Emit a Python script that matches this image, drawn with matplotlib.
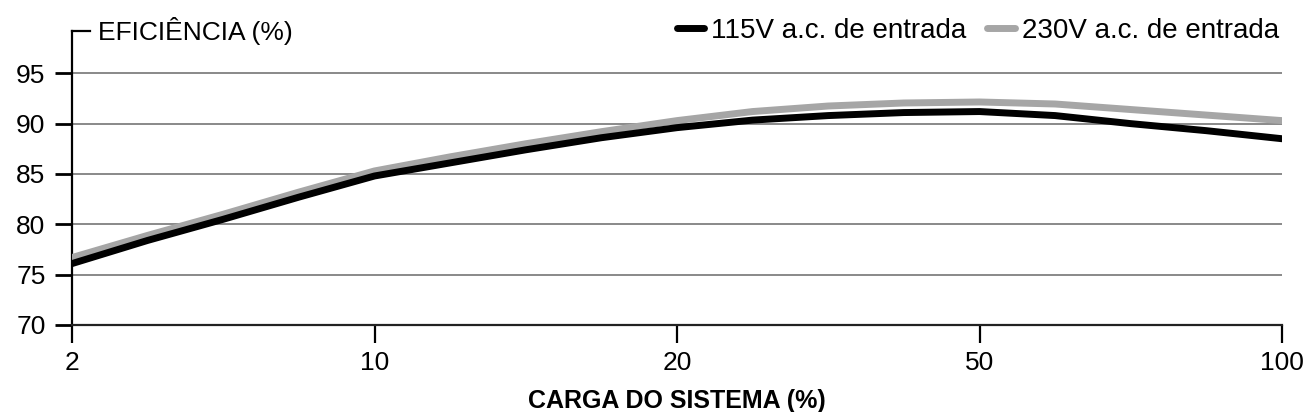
import matplotlib
matplotlib.use('Agg')
import matplotlib.pyplot as plt

# carga do sistema: posicoes igualmente espacadas 2, 10, 20, 50, 100
x_labels = ['2', '10', '20', '50', '100']
x_ticks = [0, 1, 2, 3, 4]

# pontos (em quartos de intervalo)
pos = [0, 0.25, 0.5, 0.75, 1, 1.25, 1.5, 1.75, 2,
       2.25, 2.5, 2.75, 3, 3.25, 3.5, 3.75, 4]
ef_115 = [76.1, 78.4, 80.5, 82.7, 84.8, 86.1, 87.4, 88.6, 89.6,
          90.35, 90.8, 91.1, 91.2, 90.8, 90.0, 89.3, 88.5]
ef_230 = [76.7, 78.9, 81.0, 83.2, 85.3, 86.7, 88.0, 89.2, 90.3,
          91.2, 91.75, 92.05, 92.15, 91.95, 91.4, 90.85, 90.3]

y_ticks = [70, 75, 80, 85, 90, 95]

plt.rcParams['font.family'] = ['Liberation Sans', 'DejaVu Sans']

fig = plt.figure(figsize=(13.04, 4.12), dpi=100)
ax = fig.add_axes([72 / 1304, 1 - 325 / 412, 1210 / 1304, 294 / 412])

ax.plot(pos, ef_230, color='#a6a6a6', lw=5, solid_capstyle='round',
        solid_joinstyle='round', label='230V a.c. de entrada', zorder=3)
ax.plot(pos, ef_115, color='black', lw=5, solid_capstyle='round',
        solid_joinstyle='round', label='115V a.c. de entrada', zorder=4)

ax.set_xlim(0, 4)
ax.set_ylim(70, 99.2)
ax.set_xticks(x_ticks)
ax.set_xticklabels(x_labels)
ax.set_yticks(y_ticks)

for v in y_ticks[1:]:
    ax.axhline(v, color='#808080', lw=1.3, zorder=1)

for s in ['top', 'right']:
    ax.spines[s].set_visible(False)
ax.spines['left'].set_linewidth(1.6)
ax.spines['bottom'].set_linewidth(1.6)
ax.spines['bottom'].set_color('#222222')

ax.tick_params(axis='y', length=12, width=2, pad=7, labelsize=19)
ax.tick_params(axis='x', length=13, width=1.6, pad=6, labelsize=19)

# pequeno traco no topo do eixo y e titulo do eixo
ax.plot([0, 18 / 1210], [1, 1], transform=ax.transAxes, color='black',
        lw=1.6, clip_on=False)
ax.text(26 / 1210, 1.0, 'EFICIÊNCIA (%)', transform=ax.transAxes,
        ha='left', va='center', fontsize=19)

ax.set_xlabel('CARGA DO SISTEMA (%)', fontsize=18, fontweight='bold',
              labelpad=10)

h, l = ax.get_legend_handles_labels()
ax.legend(h[::-1], l[::-1], ncol=2, loc='center right',
          bbox_to_anchor=(1.0, 1.0), frameon=False, fontsize=20,
          handlelength=1.0, handletextpad=0.25, columnspacing=0.75,
          borderaxespad=0, borderpad=0.1)

fig.savefig('out.png', dpi=100)
